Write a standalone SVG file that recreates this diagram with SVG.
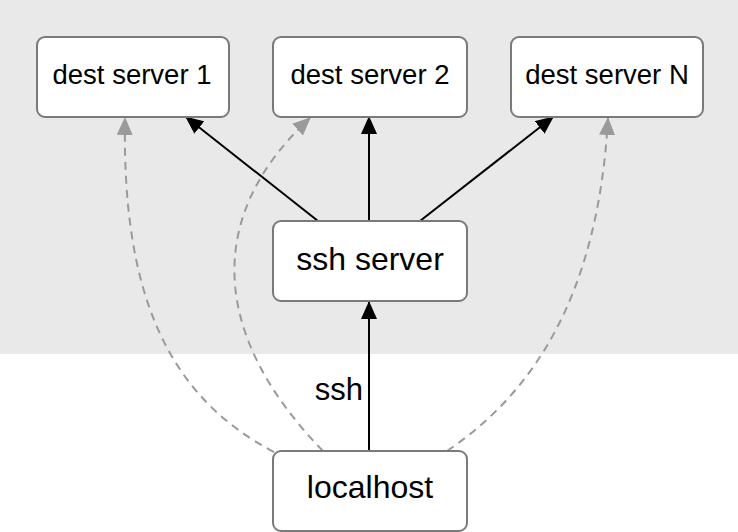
<svg xmlns="http://www.w3.org/2000/svg" width="738" height="532" viewBox="0 0 738 532">
<defs>
<style>
.box{fill:#fff;stroke:#7a7a7a;stroke-width:2}
.t{font-family:"Liberation Sans",Arial,Helvetica,sans-serif;fill:#000;text-anchor:middle}
.solid{fill:none;stroke:#000;stroke-width:2}
.dash{fill:none;stroke:#9a9a9a;stroke-width:2;stroke-dasharray:8 6}
</style>
<marker id="ab" markerUnits="userSpaceOnUse" markerWidth="18" markerHeight="16" viewBox="0 0 18 16" refX="17" refY="8" orient="auto">
<path d="M0,0 L18,8 L0,16 Z" fill="#000"/>
</marker>
<marker id="ag" markerUnits="userSpaceOnUse" markerWidth="18" markerHeight="16" viewBox="0 0 18 16" refX="17" refY="8" orient="auto">
<path d="M0,0 L18,8 L0,16 Z" fill="#9a9a9a"/>
</marker>
</defs>
<rect x="0" y="0" width="738" height="354" fill="#e9e9e9"/>
<g id="connectors">
<path class="dash" d="M274,452 C165,395 122,290 125,118" marker-end="url(#ag)"/>
<path class="dash" d="M323,451 C215,340 200,220 310,118" marker-end="url(#ag)"/>
<path class="dash" d="M447,451 C530,395 598,300 608,118" marker-end="url(#ag)"/>
<path class="solid" d="M318,221 L186,117" marker-end="url(#ab)"/>
<path class="solid" d="M369,221 L369,117" marker-end="url(#ab)"/>
<path class="solid" d="M420,221 L553,117" marker-end="url(#ab)"/>
<path class="solid" d="M369,451 L369,302" marker-end="url(#ab)"/>
<text class="t" x="363" y="400" style="text-anchor:end" font-size="31">ssh</text>
</g>
<g id="dest1">
<rect class="box" x="37" y="37" width="192" height="80" rx="8"/>
<text class="t" x="132" y="84" font-size="27.5">dest server 1</text>
</g>
<g id="dest2">
<rect class="box" x="273" y="37" width="194" height="80" rx="8"/>
<text class="t" x="370" y="84" font-size="27.5">dest server 2</text>
</g>
<g id="destN">
<rect class="box" x="511" y="37" width="192" height="80" rx="8"/>
<text class="t" x="607" y="84" font-size="27.5">dest server N</text>
</g>
<g id="sshserver">
<rect class="box" x="273" y="221" width="194" height="80" rx="8"/>
<text class="t" x="370" y="270" font-size="32">ssh server</text>
</g>
<g id="localhost">
<rect class="box" x="273" y="451" width="194" height="80" rx="8"/>
<text class="t" x="370" y="498" font-size="32">localhost</text>
</g>
</svg>
